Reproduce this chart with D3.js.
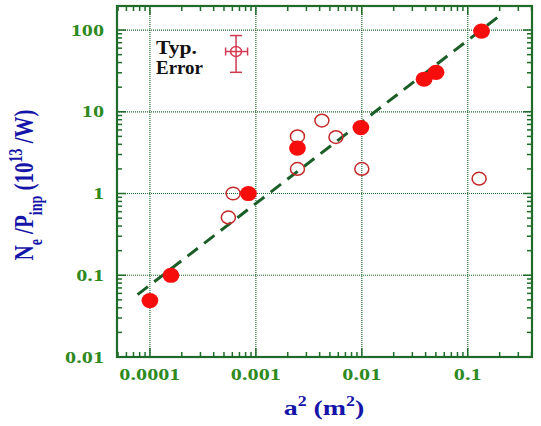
<!DOCTYPE html>
<html><head><meta charset="utf-8">
<script src="https://cdn.jsdelivr.net/npm/d3@7"></script>
<style>body{margin:0;background:#fff}svg{display:block}</style>
</head><body>
<svg id="c" width="541" height="426"></svg>
<script>
// Filled points (a^2 in m^2, Ne/Pinp in 1e13/W)
const filledX = [0.0001, 0.000158, 0.00085, 0.00247, 0.0098, 0.0387, 0.0502, 0.135];
const filledY = [0.049, 0.1, 1.0, 3.6, 6.4, 25, 30.4, 97];
// Open points
const openX = [0.00055, 0.00061, 0.00247, 0.00247, 0.0042, 0.0057, 0.01, 0.128];
const openY = [0.51, 1.0, 5.0, 2.0, 7.8, 4.9, 2.0, 1.52];
// Dashed fit line endpoints
const fitX = [0.0000765, 0.194];
const fitY = [0.058, 145];
// Typical error marker
const errX = [0.00065], errY = [54.6];
const errXRange = [0.000518, 0.000835], errYRange = [30.4, 85.6];
const xTickVals = [0.0001, 0.001, 0.01, 0.1];
const xTickLabels = ["0.0001", "0.001", "0.01", "0.1"];
const yTickVals = [0.01, 0.1, 1, 10, 100];
const yTickLabels = ["0.01", "0.1", "1", "10", "100"];

const svg = d3.select("#c");
const L = 117, R = 532, T = 6, B = 357;
const x = d3.scaleLog().domain([4.89e-5, 0.404]).range([L, R]);
const y = d3.scaleLog().domain([0.01, 196.8]).range([B, T]);
const green = "#1f6b2a", tickGreen = "#2e8a1e", blue = "#1414a8";
const font = "'Liberation Serif','Times New Roman',serif";
const SX = 1.27;

function minors(scale) {
  const [a, b] = scale.domain();
  const out = [];
  for (let e = Math.floor(Math.log10(a)); e <= Math.ceil(Math.log10(b)); e++)
    for (let k = 1; k < 10; k++) {
      const v = k * Math.pow(10, e);
      if (v >= a && v <= b) out.push({v, major: k === 1});
    }
  return out;
}
function stext(px, py, size, anchor, fill) {
  return svg.append("g").attr("transform", `translate(${px},${py}) scale(${SX},1)`)
    .append("text").attr("text-anchor", anchor).attr("font-family", font)
    .attr("font-weight", "bold").attr("font-size", size).attr("fill", fill);
}

// grid
const g = svg.append("g");
g.selectAll(".gx").data(xTickVals).join("line")
  .attr("x1", d => x(d)).attr("x2", d => x(d)).attr("y1", T).attr("y2", B)
  .attr("stroke", green).attr("stroke-width", 1.2).attr("stroke-dasharray", "1,1");
g.selectAll(".gy").data(yTickVals.filter(v => v > 0.01)).join("line")
  .attr("y1", d => y(d)).attr("y2", d => y(d)).attr("x1", L).attr("x2", R)
  .attr("stroke", green).attr("stroke-width", 1.2).attr("stroke-dasharray", "1,1");

// ticks on all sides
const mx = minors(x), my = minors(y);
const tk = svg.append("g").attr("stroke", green).attr("stroke-width", 1.5);
mx.forEach(t => {
  const len = t.major ? 9 : 5;
  tk.append("line").attr("x1", x(t.v)).attr("x2", x(t.v)).attr("y1", B).attr("y2", B - len);
  tk.append("line").attr("x1", x(t.v)).attr("x2", x(t.v)).attr("y1", T).attr("y2", T + len);
});
my.forEach(t => {
  const len = t.major ? 9 : 5;
  tk.append("line").attr("y1", y(t.v)).attr("y2", y(t.v)).attr("x1", L).attr("x2", L + len);
  tk.append("line").attr("y1", y(t.v)).attr("y2", y(t.v)).attr("x1", R).attr("x2", R - len);
});

// frame
svg.append("rect").attr("x", L).attr("y", T).attr("width", R - L).attr("height", B - T)
  .attr("fill", "none").attr("stroke", green).attr("stroke-width", 2.2);

// tick labels
xTickVals.forEach((v, i) => stext(x(v), 380, 17.5, "middle", tickGreen).text(xTickLabels[i]));
yTickVals.forEach((v, i) => stext(104, y(v) + 5.5, 17.5, "end", tickGreen).text(yTickLabels[i]));

// fit line
const line = d3.line().x(d => x(d[0])).y(d => y(d[1]));
svg.append("path").datum(fitX.map((v, i) => [v, fitY[i]])).attr("d", line)
  .attr("fill", "none").attr("stroke", "#1b5e28").attr("stroke-width", 3)
  .attr("stroke-dasharray", "13,8");

// open circles
svg.append("g").selectAll("ellipse").data(openX.map((v, i) => [v, openY[i]])).join("ellipse")
  .attr("cx", d => x(d[0])).attr("cy", d => y(d[1])).attr("rx", 7).attr("ry", 6.3)
  .attr("fill", "none").attr("stroke", "#c42a2a").attr("stroke-width", 1.5);

// filled circles
svg.append("g").selectAll("ellipse").data(filledX.map((v, i) => [v, filledY[i]])).join("ellipse")
  .attr("cx", d => x(d[0])).attr("cy", d => y(d[1])).attr("rx", 8.4).attr("ry", 7.6)
  .attr("fill", "#f80d0d");

// typical error marker
const ec = "#d23a52";
const eg = svg.append("g").attr("stroke", ec).attr("stroke-width", 1.5).attr("fill", "none");
const cx = x(errX[0]), cy = y(errY[0]);
eg.append("line").attr("x1", cx).attr("x2", cx).attr("y1", y(errYRange[1])).attr("y2", y(errYRange[0]));
eg.append("line").attr("x1", x(errXRange[0])).attr("x2", x(errXRange[1])).attr("y1", cy).attr("y2", cy);
eg.append("line").attr("x1", cx - 6).attr("x2", cx + 6).attr("y1", y(errYRange[1])).attr("y2", y(errYRange[1]));
eg.append("line").attr("x1", cx - 6).attr("x2", cx + 6).attr("y1", y(errYRange[0])).attr("y2", y(errYRange[0]));
eg.append("line").attr("x1", x(errXRange[0])).attr("x2", x(errXRange[0])).attr("y1", cy - 4).attr("y2", cy + 4);
eg.append("line").attr("x1", x(errXRange[1])).attr("x2", x(errXRange[1])).attr("y1", cy - 4).attr("y2", cy + 4);
eg.append("ellipse").attr("cx", cx).attr("cy", cy).attr("rx", 5.5).attr("ry", 5);

svg.append("text").attr("x", 156).attr("y", 54).attr("font-family", font).attr("font-weight", "bold")
  .attr("font-size", 18).attr("fill", "#111").attr("textLength", 41)
  .attr("lengthAdjust", "spacingAndGlyphs").text("Typ.");
svg.append("text").attr("x", 156).attr("y", 74).attr("font-family", font).attr("font-weight", "bold")
  .attr("font-size", 18).attr("fill", "#111").attr("textLength", 47)
  .attr("lengthAdjust", "spacingAndGlyphs").text("Error");

// x axis title
const xt = stext(324, 415, 22, "middle", blue);
xt.append("tspan").text("a");
xt.append("tspan").attr("dy", -9).attr("font-size", 14).text("2");
xt.append("tspan").attr("dy", 9).text(" (m");
xt.append("tspan").attr("dy", -9).attr("font-size", 14).text("2");
xt.append("tspan").attr("dy", 9).text(")");

// y axis title
const yt = svg.append("g").attr("transform", `translate(33,185) scale(${SX},1) rotate(-90)`)
  .append("text").attr("text-anchor", "middle")
  .attr("font-family", font).attr("font-weight", "bold").attr("font-size", 21).attr("fill", blue);
yt.append("tspan").text("N");
yt.append("tspan").attr("dy", 7).attr("font-size", 14).text("e");
yt.append("tspan").attr("dy", -7).text(" /P");
yt.append("tspan").attr("dy", 7).attr("font-size", 14).text("inp");
yt.append("tspan").attr("dy", -7).text(" (10");
yt.append("tspan").attr("dy", -9).attr("font-size", 14).text("13");
yt.append("tspan").attr("dy", 9).text(" /W)");
</script>
</body></html>
